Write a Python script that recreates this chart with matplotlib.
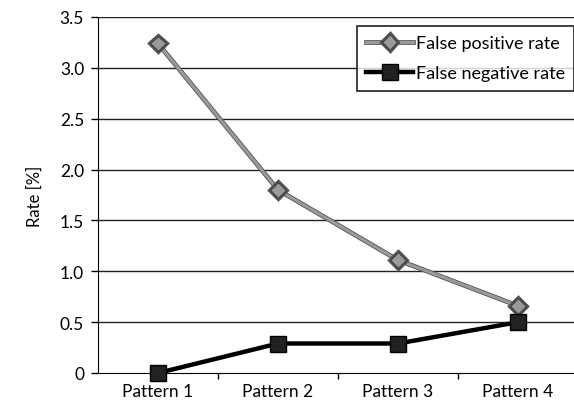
import matplotlib
matplotlib.use("Agg")
import matplotlib.pyplot as plt
import matplotlib.patheffects as pe
import numpy as np

categories = ["Pattern 1", "Pattern 2", "Pattern 3", "Pattern 4"]
false_positive = [3.24, 1.80, 1.11, 0.66]
false_negative = [0.0, 0.29, 0.29, 0.50]
yticks = [0, 0.5, 1.0, 1.5, 2.0, 2.5, 3.0, 3.5]
ytick_labels = ["0", "0.5", "1.0", "1.5", "2.0", "2.5", "3.0", "3.5"]

plt.rcParams['font.family'] = ['Lato', 'DejaVu Sans']

fig = plt.figure(figsize=(5.74, 4.06), dpi=100)
ax = fig.add_axes([98/574, 1 - 374/406, 480/574, 356/406])

x = np.arange(len(categories))
ax.set_xlim(-0.5, len(categories) - 0.5)
ax.set_ylim(0, 3.5)

for yv in yticks[1:]:
    ax.axhline(yv, color="#222222", lw=1.0, zorder=1)

ax.plot(x, false_positive, color="#9a9a9a", lw=2.2, marker="D", ms=8,
        mfc="#9a9a9a", mec="#444444", mew=1.0, zorder=3,
        path_effects=[pe.Stroke(linewidth=3.4, foreground="#555555"), pe.Normal()],
        label="False positive rate")
ax.plot(x, false_negative, color="black", lw=3.2, marker="s", ms=12,
        mfc="#222222", mec="black", mew=1.0, zorder=4, clip_on=False,
        label="False negative rate")

ax.set_yticks(yticks)
ax.set_yticklabels(ytick_labels, fontsize=12.5)
ax.set_xticks(x)
ax.set_xticklabels(categories, fontsize=12.5)
ax.set_xticks([0.5, 1.5, 2.5], minor=True)
ax.tick_params(axis="x", which="major", length=0, pad=7)
ax.tick_params(axis="x", which="minor", length=4, direction="out", width=1)
ax.tick_params(axis="y", length=5, direction="out", width=1, pad=5)

for s in ["top", "right"]:
    ax.spines[s].set_visible(False)
ax.spines["left"].set_color("black")
ax.spines["bottom"].set_color("black")

ax.set_ylabel("Rate [%]", fontsize=12, labelpad=12)

leg = ax.legend(loc="upper left", bbox_to_anchor=(357/574, 1 - 27/406),
                bbox_transform=fig.transFigure, fontsize=13, frameon=True,
                fancybox=False, edgecolor="black", handlelength=2.6,
                handletextpad=0.15, borderpad=0.5, labelspacing=0.8,
                borderaxespad=0)
leg.get_frame().set_linewidth(1.3)

fig.savefig("out.png", dpi=100)
